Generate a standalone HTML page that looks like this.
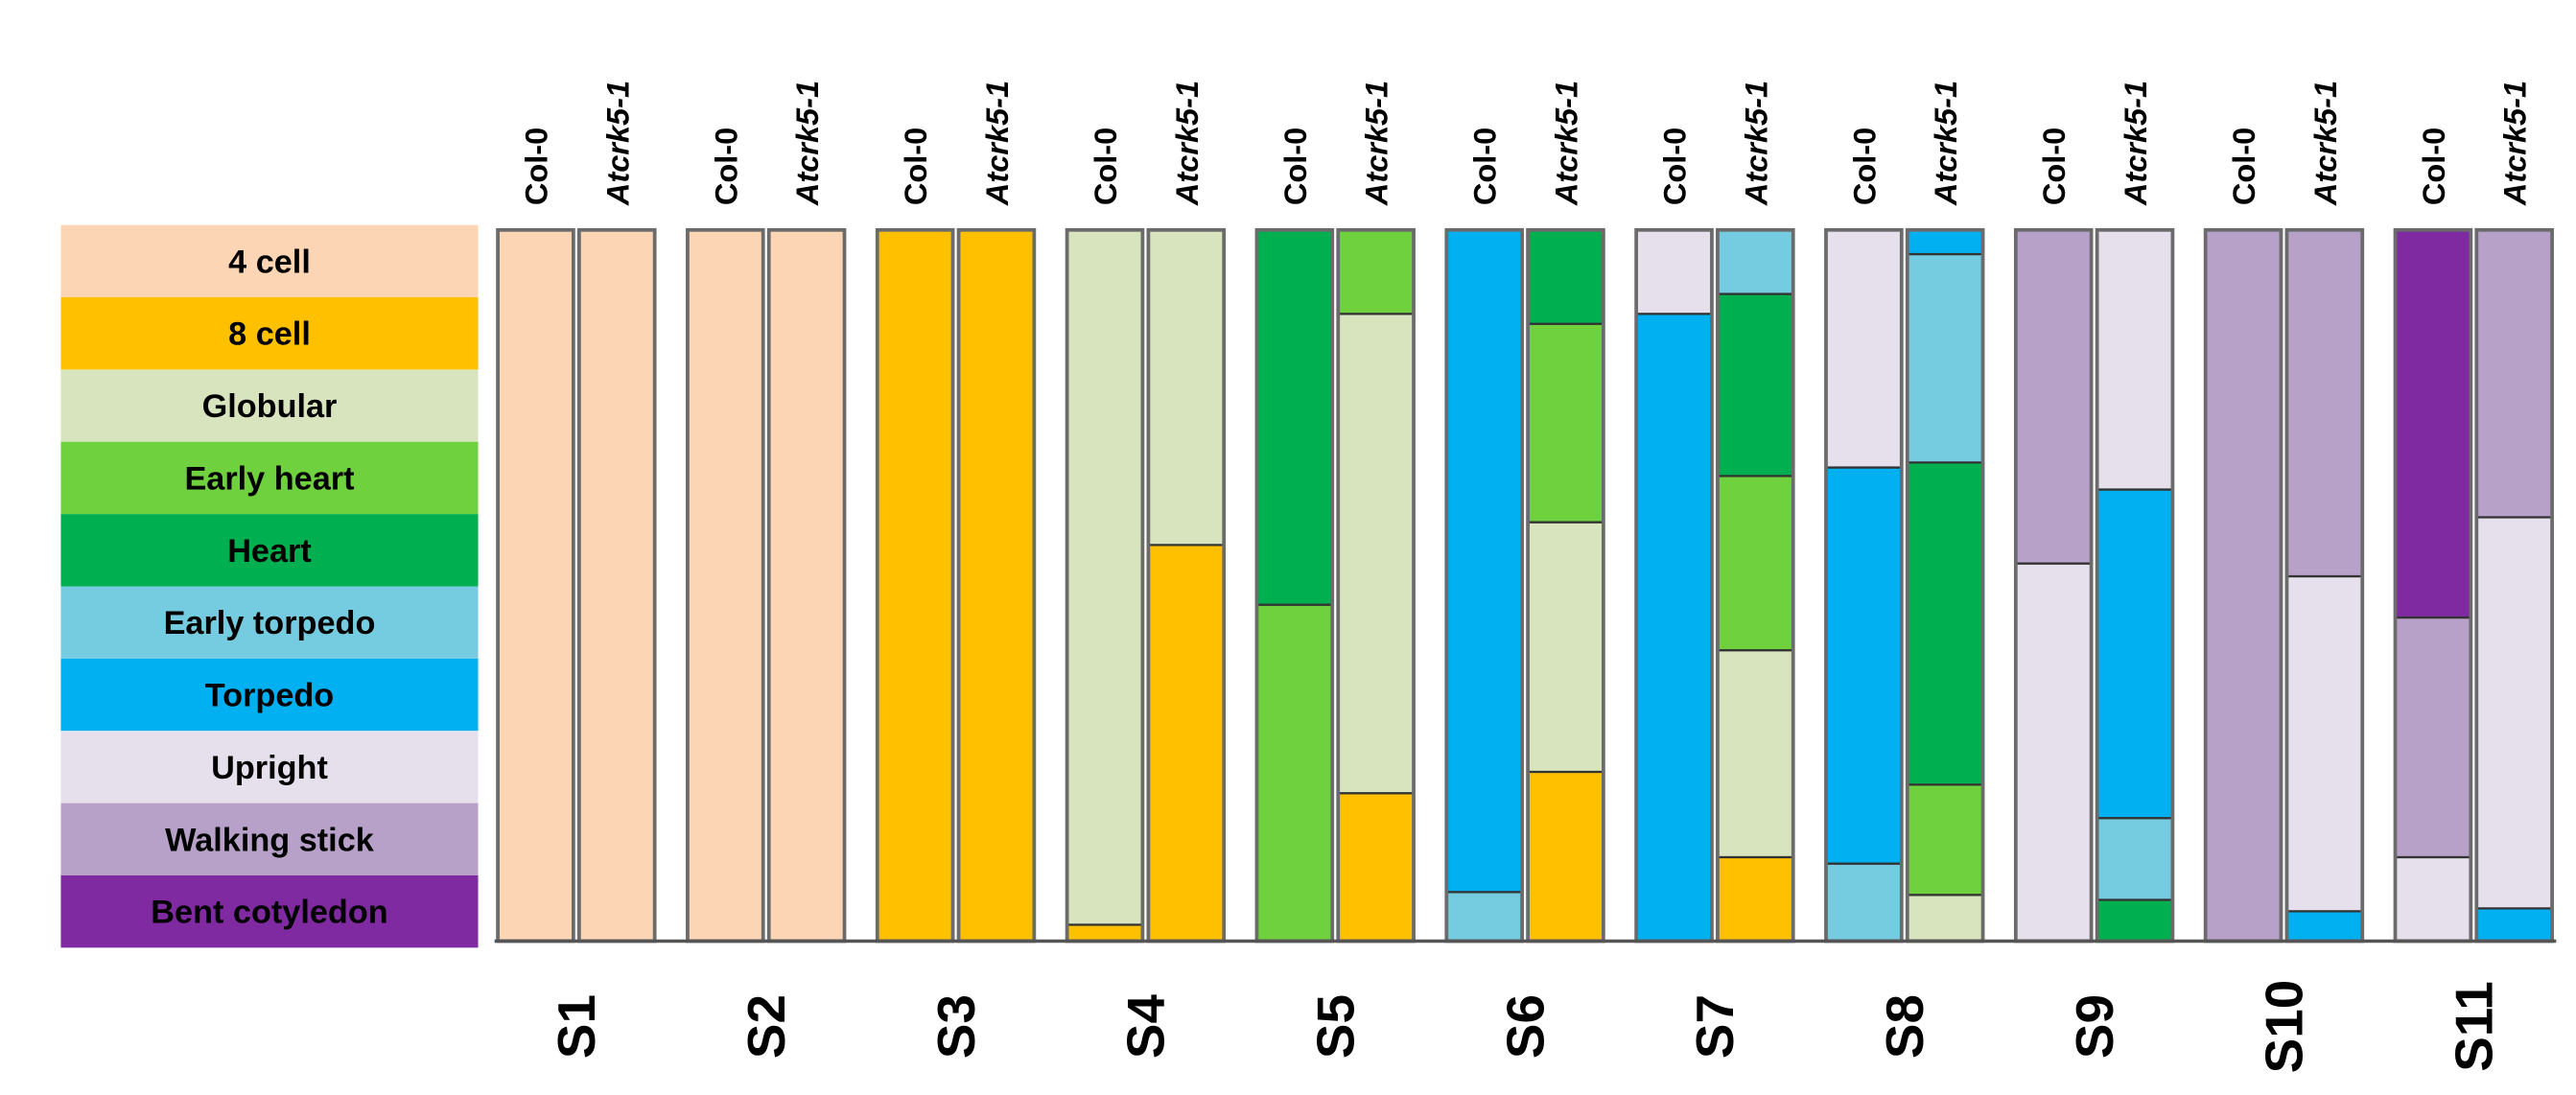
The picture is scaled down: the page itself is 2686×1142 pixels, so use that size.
<!DOCTYPE html>
<html><head><meta charset="utf-8"><style>
html,body{margin:0;padding:0;background:#fff;width:2686px;height:1142px;overflow:hidden}
svg{display:block}
text{font-family:"Liberation Sans",sans-serif;font-weight:bold;fill:#000}
</style></head><body>
<svg id="chart" width="2686" height="1142" viewBox="0 0 1568 666.7" xmlns="http://www.w3.org/2000/svg">
<g id="legend"></g>
<g id="bars"></g>
<g id="labels"></g>
</svg>
<script>
const stages = ["4 cell","8 cell","Globular","Early heart","Heart","Early torpedo","Torpedo","Upright","Walking stick","Bent cotyledon"];
const stageColors = ["#FCD5B5","#FFC000","#D7E4BD","#6FD13E","#00B050","#75CCE0","#00B0F0","#E6E0EC","#B7A1C9","#7F2AA0"];
const groups = ["S1","S2","S3","S4","S5","S6","S7","S8","S9","S10","S11"];
const genotypes = ["Col-0","Atcrk5-1"];
// percentages per stage (bottom-up order = stage index), Col-0 then Atcrk5-1 per group
const colValues = [
 [100,0,0,0,0,0,0,0,0,0],
 [100,0,0,0,0,0,0,0,0,0],
 [0,100,0,0,0,0,0,0,0,0],
 [0,2.3,97.7,0,0,0,0,0,0,0],
 [0,0,0,47.3,52.7,0,0,0,0,0],
 [0,0,0,0,0,6.9,93.1,0,0,0],
 [0,0,0,0,0,0,88.2,11.8,0,0],
 [0,0,0,0,0,10.9,55.7,33.4,0,0],
 [0,0,0,0,0,0,0,53.1,46.9,0],
 [0,0,0,0,0,0,0,0,100,0],
 [0,0,0,0,0,0,0,11.8,33.7,54.5]
];
const mutValues = [
 [100,0,0,0,0,0,0,0,0,0],
 [100,0,0,0,0,0,0,0,0,0],
 [0,100,0,0,0,0,0,0,0,0],
 [0,55.7,44.3,0,0,0,0,0,0,0],
 [0,20.8,67.4,11.8,0,0,0,0,0,0],
 [0,23.8,35.1,27.9,13.2,0,0,0,0,0],
 [0,11.8,29.1,24.5,25.6,9.0,0,0,0,0],
 [0,0,6.5,15.5,45.3,29.3,3.4,0,0,0],
 [0,0,0,0,5.8,11.5,46.2,36.5,0,0],
 [0,0,0,0,0,0,4.2,47.1,48.7,0],
 [0,0,0,0,0,0,4.6,55.0,40.4,0]
];
const NS="http://www.w3.org/2000/svg";
const top0=140, base=573, barW=46;
function yScale(p){return base-(p/100)*(base-top0);}
function xGroup(i){return 303+i*115.5;}
function mk(tag,attrs,parent){const e=document.createElementNS(NS,tag);for(const k in attrs)e.setAttribute(k,attrs[k]);parent.appendChild(e);return e;}
const legend=document.getElementById('legend');
stages.forEach((s,i)=>{
  const r=mk('rect',{x:37,y:137+i*44,width:254,height:44,fill:stageColors[i]},legend);
  
  
  const t=mk('text',{x:164,y:137+i*44+29,'text-anchor':'middle','font-size':20},legend);
  t.textContent=s;
  
  
});
const bars=document.getElementById('bars');
const labels=document.getElementById('labels');
groups.forEach((g,gi)=>{
  [colValues[gi],mutValues[gi]].forEach((vals,k)=>{
    const x=xGroup(gi)+k*49.5;
    let cum=0;
    vals.forEach((v,si)=>{
      if(v<=0)return;
      const y1=yScale(cum+v), y0=yScale(cum);
      const r=mk('rect',{x:x,y:y1,width:barW,height:y0-y1,fill:stageColors[si],stroke:'#333','stroke-width':1.3},bars);
      
      
      cum+=v;
    });
    const o=mk('rect',{x:x,y:top0,width:barW,height:base-top0,fill:'none',stroke:'#6b6b6b','stroke-width':2.2},bars);
    
    
    const cx=x+barW/2+7;
    const t=mk('text',{x:0,y:0,transform:`translate(${cx},125) rotate(-90)`,'font-size':19,'font-style':k? 'italic':'normal'},labels);
    t.textContent=genotypes[k];
    
    
  });
  const gx=xGroup(gi)+48+11;
  const t=mk('text',{x:0,y:0,transform:`translate(${gx},625) rotate(-90)`,'font-size':32,'text-anchor':'middle'},labels);
  t.textContent=g;
  
  
});
const ax=mk('line',{x1:301,y1:base,x2:1556,y2:base,stroke:'#555','stroke-width':2},bars);


</script>
</body></html>
